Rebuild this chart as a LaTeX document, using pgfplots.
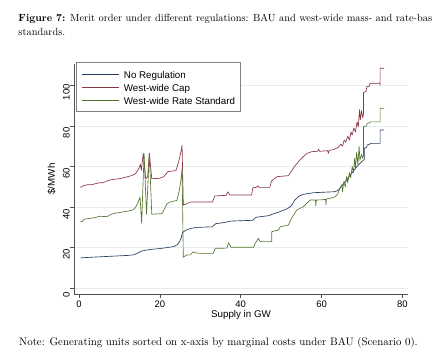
\documentclass[border=0pt]{standalone}
\usepackage{fontspec}
\usepackage{pgfplots}
\pgfplotsset{compat=1.18}
\newfontfamily\chartfont{Liberation Sans}
\definecolor{snavy}{HTML}{233A5C}
\definecolor{smaroon}{HTML}{8A3540}
\definecolor{sgreen}{HTML}{55752F}
\definecolor{sgrid}{HTML}{E6EEF0}
\definecolor{saxis}{HTML}{505050}
\begin{document}
\begin{tikzpicture}
\useasboundingbox (0,0) rectangle (432bp,358bp);
\clip (0,0) rectangle (432bp,358bp);
\node[anchor=base west,inner sep=0pt,font=\fontsize{10.4}{12}\selectfont] at (18.3bp,336bp) {\textbf{Figure 7:} Merit order under different regulations: BAU and west-wide mass- and rate-based};
\node[anchor=base west,inner sep=0pt,font=\fontsize{10.4}{12}\selectfont] at (18.3bp,322.5bp) {standards.};
\node[anchor=base west,inner sep=0pt,font=\fontsize{10.9}{12}\selectfont] at (19bp,13bp) {Note: Generating units sorted on x-axis by marginal costs under BAU (Scenario 0).};
\begin{axis}[
  at={(74bp,64bp)}, anchor=south west,
  scale only axis, width=334bp, height=230bp,
  xmin=-1.24, xmax=81.4, ymin=-2.8, ymax=110.5,
  axis x line*=bottom, axis y line*=left,
  axis line style={saxis, line width=0.6bp, -},
  xtick={0,20,...,80}, ytick={0,20,...,100},
  tick align=outside, major tick length=4bp,
  tick style={saxis, line width=0.6bp},
  minor tick num=0,
  ymajorgrids, grid style={sgrid, line width=0.6bp},
  /pgf/number format/assume math mode=true,
  ticklabel style={font=\chartfont\fontsize{9.5}{11}\selectfont, inner sep=0pt},
  xticklabel style={anchor=north, yshift=-3bp},
  yticklabel style={rotate=90, anchor=south, xshift=-7bp},
  xlabel={Supply in GW},
  xlabel style={font=\chartfont\fontsize{9.8}{11}\selectfont, at={(axis description cs:0.5,-0.1035)}, anchor=base, inner sep=0pt},
  ylabel={\$/MWh},
  ylabel style={font=\chartfont\fontsize{9.8}{11}\selectfont, at={(axis description cs:-0.057,0.5)}, anchor=base, rotate=0, inner sep=0pt},
  legend cell align=left,
  legend image code/.code={\draw[#1] (0bp,0bp) -- (37bp,0bp);},
  legend style={at={(axis description cs:0.006,1.008)}, anchor=north west,
    draw=gray, line width=0.6bp, inner xsep=5bp, inner ysep=5bp,
    font=\chartfont\fontsize{9.8}{11}\selectfont,
    nodes={inner sep=0pt, text height=11bp, text depth=2bp},
    /tikz/column sep=5bp, /tikz/row sep=0.1bp},
  every axis plot/.append style={line width=0.65bp, line join=round, no markers},
]
\addplot[snavy] coordinates {
(0.4,15) (3,15.3) (6,15.6) (9,15.9) (12,16.2) (13.5,16.5) (14.5,17.3) (15.3,18.2) (16.5,18.8) (18,19.2) (20,19.6) (22,20.1) (23.5,20.6) (24.3,21.5) (24.9,23) (25.3,25) (25.6,27.5) (26.3,28.5) (27.5,29.4) (29,30) (33,30.3) (33.8,31.8) (36.5,32.6) (37.5,33.1) (43,33.5) (43.8,35) (47,35.8) (47.8,36.5) (49.5,37.6) (51.5,39.2) (52.5,40.5) (53.4,43.5) (54.5,45.5) (55.5,46.3) (58,47.1) (63.4,47.6) (64.2,48.4) (65,50.5) (66,53) (67,55.5) (68,58) (69,60.5) (70,62.5) (70.6,63.5) (70.6,69) (71.2,69.5) (71.3,70.6) (72,71) (72.1,71.4) (74.5,71.4) (74.5,78) (75.5,78)
};
\addlegendentry{No Regulation}
\addplot[smaroon] coordinates {
(0.3,50) (0.6,49.8) (1,50.5) (2,51) (3,51) (4,51.5) (5,52) (6,52) (7,53) (8,53.5) (9,53.8) (10,54) (11,54.5) (12,55) (13,55.5) (14,56.5) (14.8,59) (15.2,61) (15.4,58) (15.9,66.5) (16.5,54) (17.0,55) (17.4,66.5) (18,54) (20,54.2) (21,55) (22,57.5) (24,58) (24.6,62) (25.2,67) (25.5,70.5) (25.8,41) (26.5,41.5) (27.5,42.5) (33,42.5) (33.6,45.5) (36.4,45.8) (36.8,47.5) (37.3,46) (42.7,46) (43,49.5) (43.8,49.7) (44.2,50.5) (44.6,49.7) (47.2,49.7) (47.6,52.8) (49,55) (51.8,55.5) (53.5,60.5) (55,64) (56.4,66.5) (57.6,67.3) (59,67.5) (59.3,68.5) (59.5,67.5) (61.5,67.8) (61.7,66.5) (61.9,68) (63,68.3) (64.2,69.5) (64.8,71) (65.2,70) (65.6,73) (66,72) (66.5,75) (66.9,73) (67.3,77) (67.6,75.5) (68,79) (68.4,77) (68.8,82) (69.1,79.5) (69.4,88) (69.6,83) (69.9,87.5) (70.2,84) (70.4,86) (70.4,96.5) (71,97) (71.2,99.3) (71.8,99.5) (72,101) (74.4,101) (74.5,100) (74.5,108.4) (75.5,108.4)
};
\addlegendentry{West-wide Cap}
\addplot[sgreen] coordinates {
(0.4,33) (0.8,32.8) (1.2,34) (2.7,34.5) (4,34.8) (5,35.5) (6.9,35.3) (8,36.5) (9,37) (10,37.3) (11,37.7) (12,38) (13.4,38.6) (14,40) (14.7,42.7) (15.1,45) (15.5,32) (16.1,66.5) (16.7,36.5) (17.4,66.5) (18,36.5) (20.5,36.8) (21,38.5) (21.7,41.5) (22.5,42.5) (24.2,43.3) (24.8,48) (25.2,53) (25.5,59) (25.8,15.3) (26.6,16.4) (27.5,16.5) (28.3,18) (28.8,17.5) (30,17.2) (33.2,17.2) (33.7,19.7) (36.6,19.8) (37,22.5) (37.6,20.2) (43.2,20.2) (43.6,22.2) (44.4,24.6) (44.8,23) (47.7,23) (47.7,27.9) (49.3,28.7) (49.8,30.3) (51.8,31.2) (52.6,34.5) (53.9,38.6) (55.5,40.2) (57.2,43.5) (58.5,43.5) (58.6,40.5) (58.7,43.5) (60,43.6) (61,43.8) (61.1,41) (61.2,44) (62,44.3) (63.4,45.1) (64,46.5) (64.6,49.3) (65,51) (65.2,47.5) (65.5,52.5) (65.9,50) (66.2,55) (66.5,52) (66.9,57) (67.2,54.5) (67.6,60) (67.9,57) (68.2,64) (68.4,59) (68.7,67) (69,61) (69.3,70) (69.5,63) (69.9,66) (70.2,64) (70.4,65.5) (70.4,79.6) (71.2,80) (71.3,81.3) (72,81.6) (72.1,82) (74.5,82) (74.5,88.7) (75.5,88.7)
};
\addlegendentry{West-wide Rate Standard}
\end{axis}
\end{tikzpicture}
\end{document}
